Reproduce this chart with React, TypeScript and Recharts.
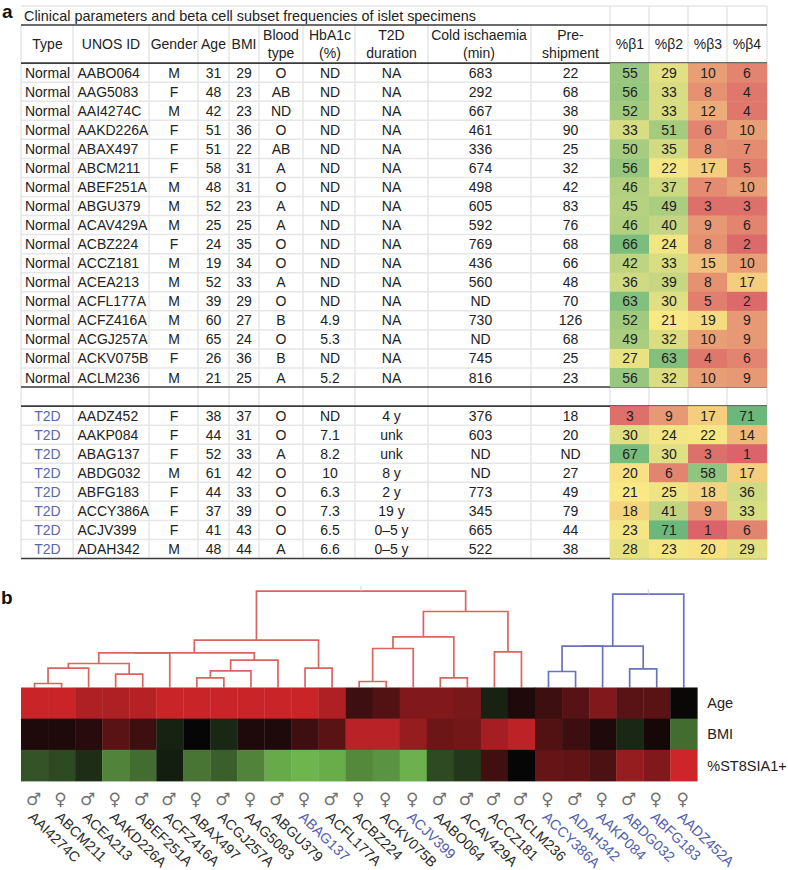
import React from "react";
import {
  LineChart,
  Line,
  ReferenceLine,
  Scatter,
  ScatterChart,
  XAxis,
  YAxis,
} from "recharts";

// panel a, table columns
const tableTypes = ["Normal","Normal","Normal","Normal","Normal","Normal","Normal","Normal","Normal","Normal","Normal","Normal","Normal","Normal","Normal","Normal","Normal","T2D","T2D","T2D","T2D","T2D","T2D","T2D","T2D"];
const tableIds = ["AABO064","AAG5083","AAI4274C","AAKD226A","ABAX497","ABCM211","ABEF251A","ABGU379","ACAV429A","ACBZ224","ACCZ181","ACEA213","ACFL177A","ACFZ416A","ACGJ257A","ACKV075B","ACLM236","AADZ452","AAKP084","ABAG137","ABDG032","ABFG183","ACCY386A","ACJV399","ADAH342"];
const tableGenders = ["M","F","M","F","F","F","M","M","M","F","M","M","M","M","M","F","M","F","F","F","M","F","F","F","M"];
const tableAges = [31,48,42,51,51,58,48,52,25,24,19,52,39,60,65,26,21,38,44,52,61,44,37,41,48];
const tableBmis = [29,23,23,36,22,31,31,23,25,35,34,33,29,27,24,36,25,37,31,33,42,33,39,43,44];
const tableBlood = ["O","AB","ND","O","AB","A","O","A","A","O","O","A","O","B","O","B","A","O","O","A","O","O","O","O","A"];
const tableHba1c = ["ND","ND","ND","ND","ND","ND","ND","ND","ND","ND","ND","ND","ND","4.9","5.3","ND","5.2","ND","7.1","8.2","10","6.3","7.3","6.5","6.6"];
const tableDuration = ["NA","NA","NA","NA","NA","NA","NA","NA","NA","NA","NA","NA","NA","NA","NA","NA","NA","4 y","unk","unk","8 y","2 y","19 y","0–5 y","0–5 y"];
const tableCold = ["683","292","667","461","336","674","498","605","592","769","436","560","ND","730","ND","745","816","376","603","ND","ND","773","345","665","522"];
const tablePreShip = ["22","68","38","90","25","32","42","83","76","68","66","48","70","126","68","25","23","18","20","ND","27","49","79","44","38"];
const beta1 = [55,56,52,33,50,56,46,45,46,66,42,36,63,52,49,27,56,3,30,67,20,21,18,23,28];
const beta2 = [29,33,33,51,35,22,37,49,40,24,33,39,30,21,32,63,32,9,24,30,6,25,41,71,23];
const beta3 = [10,8,12,6,8,17,7,3,9,8,15,8,5,19,10,4,10,17,22,3,58,18,9,1,20];
const beta4 = [6,4,4,10,7,5,10,3,6,2,10,17,2,9,9,6,9,71,14,1,17,36,33,6,29];
const betaColumns = [beta1, beta2, beta3, beta4];

const tableTitle = "Clinical parameters and beta cell subset frequencies of islet specimens";
const headerLabels = [["Type"],["UNOS ID"],["Gender"],["Age"],["BMI"],["Blood","type"],["HbA1c","(%)"],["T2D","duration"],["Cold ischaemia","(min)"],["Pre-","shipment"],["%β1"],["%β2"],["%β3"],["%β4"]];

// panel b, heat map columns in cluster order
const heatIds = ["AAI4274C","ABCM211","ACEA213","AAKD226A","ABEF251A","ACFZ416A","ABAX497","ACGJ257A","AAG5083","ABGU379","ABAG137","ACFL177A","ACBZ224","ACKV075B","ACJV399","AABO064","ACAV429A","ACCZ181","ACLM236","ACCY386A","ADAH342","AAKP084","ABDG032","ABFG183","AADZ452A"];
const heatGenders = ["♂","♀","♂","♀","♂","♂","♀","♂","♀","♂","♀","♂","♀","♀","♀","♂","♂","♂","♂","♀","♂","♀","♂","♀","♀"];
const heatIsT2D = [0,0,0,0,0,0,0,0,0,0,1,0,0,0,1,0,0,0,0,1,1,1,1,1,1];
const heatRowNames = ["Age","BMI","%ST8SIA1+"];
const heatAge = [0.98,0.98,0.85,0.84,0.88,0.98,0.98,0.98,0.98,0.98,0.98,0.85,0.28,0.38,0.62,0.62,0.58,-0.1,0.12,0.28,0.4,0.62,0.42,0.42,0.02];
const heatBmi = [0.12,0.12,0.17,0.42,0.28,-0.1,0,-0.12,0.12,0.12,0.28,0.42,0.9,0.9,0.72,0.52,0.55,0.8,0.92,0.38,0.27,0.12,-0.12,0.08,-0.5];
const heatSt8 = [-0.35,-0.3,-0.15,-0.65,-0.5,-0.08,-0.55,-0.42,-0.65,-0.9,-0.98,-0.92,-0.68,-0.75,-0.95,-0.3,-0.2,0.3,0,0.48,0.45,0.35,0.72,0.62,1];
const heatRows = [heatAge, heatBmi, heatSt8];

// dendrogram merges: [child, child, height]; ids above 24 are earlier merges (25 + position)
const dendroMerges = [
  [0,1,4],[25,2,19.3],[3,4,13.3],[26,27,24],[28,5,34.7],[6,7,9.7],[30,8,16.7],[31,9,27.3],
  [29,32,34.7],[10,11,19.3],[33,34,47.3],[12,13,6],[36,14,39],[15,16,9.7],[37,38,50.7],
  [17,18,35.7],[39,40,76],[35,41,96.3],[19,20,16],[43,21,41.3],[22,23,18.7],[44,45,41.3],[46,24,93.3],
];
const firstBlueMerge = 18;

// layout
const FONT = "Liberation Sans, Arial, sans-serif";
const columnEdges = [21,73,149,198,229,259,303,355,428,531,610,649,688,727,767];
const columnTextX = [47.5,77.5,174,213.5,244,281,330,391.5,480.5,570.5,630,669,708,747];
const ROW_H = 19.05;
const TABLE_ROWS = 29;
const firstRowOf = (i: number) => (i < 17 ? 3 + i : 4 + i);
const thickRows = [1, 3, 20, 21, 29];
const lightRows = [0,4,5,6,7,8,9,10,11,12,13,14,15,16,17,18,19,22,23,24,25,26,27,28];

const HEAT_COL = 27.05;
const HEAT_ROW = 31.2;

const hex = (c: number[]) => `rgb(${c.map((v) => Math.round(v)).join(",")})`;
const mix = (a: number[], b: number[], t: number) => a.map((v, i) => v + (b[i] - v) * t);

const allBeta = betaColumns.flat().sort((a, b) => a - b);
const betaMin = allBeta[0];
const betaMax = allBeta[allBeta.length - 1];
const betaMid = allBeta[Math.floor(allBeta.length / 2)];
const betaColor = (v: number) =>
  v < betaMid
    ? hex(mix([219, 99, 105], [250, 232, 132], (v - betaMin) / (betaMid - betaMin)))
    : hex(mix([250, 232, 132], [108, 184, 124], (v - betaMid) / (betaMax - betaMid)));

const heatColor = (v: number) =>
  v >= 0
    ? hex(mix([6, 6, 6], [205, 37, 41], v))
    : hex(mix([6, 6, 6], [112, 184, 80], Math.pow(-v, 0.8)));

type TextCell = { x: number; y: number; lines: string[]; color?: string; anchor?: string; size?: number };

const textCells: TextCell[] = [];
textCells.push({ x: 24, y: 0.5, lines: [tableTitle], anchor: "start", size: 14.4 });
headerLabels.forEach((lines, c) => {
  textCells.push({ x: c === 1 ? 111 : c === 8 ? 479 : columnTextX[c], y: 2, lines });
});
tableIds.forEach((id, i) => {
  const y = firstRowOf(i) + 0.5;
  const isT2D = tableTypes[i] === "T2D";
  const values = [
    tableTypes[i], id, tableGenders[i], tableAges[i], tableBmis[i], tableBlood[i],
    tableHba1c[i], tableDuration[i], tableCold[i], tablePreShip[i],
    beta1[i], beta2[i], beta3[i], beta4[i],
  ];
  values.forEach((v, c) => {
    textCells.push({
      x: columnTextX[c],
      y,
      lines: [String(v)],
      anchor: c === 1 ? "start" : "middle",
      color: c === 0 && isT2D ? "#5868ae" : "#222",
    });
  });
});

const betaCells = betaColumns.flatMap((col, c) =>
  col.map((v, i) => ({
    x: (columnEdges[10 + c] + columnEdges[11 + c]) / 2,
    y: firstRowOf(i) + 0.5,
    width: columnEdges[11 + c] - columnEdges[10 + c],
    fill: betaColor(v),
  })),
);

const heatCells = heatRows.flatMap((row, r) =>
  row.map((v, i) => ({ x: i + 0.5, y: r + 0.5, fill: heatColor(v) })),
);

// walk the merges to get every bracket as a small polyline
const nodeX: number[] = heatIds.map((_, i) => i + 0.5);
const nodeH: number[] = heatIds.map(() => 0);
const dendroLinks = dendroMerges.map(([a, b, h], k) => {
  const link = [
    { x: nodeX[a], h: nodeH[a] },
    { x: nodeX[a], h },
    { x: nodeX[b], h },
    { x: nodeX[b], h: nodeH[b] },
  ];
  nodeX.push((nodeX[a] + nodeX[b]) / 2);
  nodeH.push(h);
  return { link, color: k < firstBlueMerge ? "#d9655f" : "#6b72bd" };
});
const rootTicks = [firstBlueMerge - 1, dendroMerges.length - 1].map((k) => [
  { x: nodeX[25 + k], h: nodeH[25 + k] },
  { x: nodeX[25 + k], h: nodeH[25 + k] + 5 },
]);

const TableText = (props: any) => {
  const { cx, cy, payload } = props;
  const { lines, color, anchor, size } = payload;
  const gap = 18;
  return (
    <text
      x={cx}
      y={cy}
      fill={color ?? "#222"}
      textAnchor={anchor ?? "middle"}
      fontFamily={FONT}
      fontSize={size ?? 14}
    >
      {lines.map((line: string, i: number) => (
        <tspan key={i} x={cx} y={cy + 5 + (i - (lines.length - 1) / 2) * gap}>
          {line}
        </tspan>
      ))}
    </text>
  );
};

const BetaRect = (props: any) => {
  const { cx, cy, payload } = props;
  return (
    <rect
      x={cx - payload.width / 2}
      y={cy - ROW_H / 2}
      width={payload.width}
      height={ROW_H + 0.4}
      fill={payload.fill}
    />
  );
};

const HeatRect = (props: any) => {
  const { cx, cy, payload } = props;
  return (
    <rect
      x={cx - HEAT_COL / 2}
      y={cy - HEAT_ROW / 2}
      width={HEAT_COL + 0.3}
      height={HEAT_ROW + 0.3}
      fill={payload.fill}
    />
  );
};

const SampleTick = (props: any) => {
  const { x, y, payload } = props;
  const i = payload.value - 0.5;
  const color = heatIsT2D[i] ? "#4f5cab" : "#2a2a2a";
  const lx = x - 7;
  const ly = y + 29;
  return (
    <g fontFamily={FONT}>
      <text x={x - 1} y={y + 16} fontSize={17} fill="#707070" textAnchor="middle" fontFamily="DejaVu Sans">
        {heatGenders[i]}
      </text>
      <text x={lx} y={ly} fontSize={14.3} fill={color} transform={`rotate(44 ${lx} ${ly})`}>
        {heatIds[i]}
      </text>
    </g>
  );
};

export default function App() {
  return (
    <div style={{ position: "absolute", left: 0, top: 0, width: 788, height: 870, background: "#fff", fontFamily: FONT }}>
      <div style={{ position: "absolute", left: 2, top: 1, fontSize: 19, fontWeight: 700, color: "#111" }}>a</div>
      <div style={{ position: "absolute", left: 1, top: 587, fontSize: 19, fontWeight: 700, color: "#111" }}>b</div>

      <div style={{ position: "absolute", left: 0, top: 0 }}>
        <ScatterChart width={788} height={564} margin={{ top: 6, right: 0, bottom: 5.5, left: 0 }}>
          <XAxis type="number" dataKey="x" domain={[0, 788]} hide />
          <YAxis type="number" dataKey="y" domain={[0, TABLE_ROWS]} reversed hide width={0} />
          {columnEdges.map((e) => (
            <ReferenceLine
              key={e}
              segment={[{ x: e, y: e >= 610 ? 0 : 1 }, { x: e, y: TABLE_ROWS }]}
              stroke="#e6e6e6"
              strokeWidth={1.5}
            />
          ))}
          {lightRows.map((r) => (
            <ReferenceLine key={r} segment={[{ x: 21, y: r }, { x: 767, y: r }]} stroke="#e6e6e6" strokeWidth={1.5} />
          ))}
          <Scatter data={betaCells} shape={BetaRect} isAnimationActive={false} />
          <Scatter data={textCells} shape={TableText} isAnimationActive={false} />
          {thickRows.map((r) => (
            <ReferenceLine key={r} isFront segment={[{ x: 21, y: r }, { x: 767, y: r }]} stroke="#3a3a3a" strokeWidth={1.6} />
          ))}
        </ScatterChart>
      </div>

      <div style={{ position: "absolute", left: 0, top: 580 }}>
        <LineChart width={788} height={108} margin={{ top: 0, right: 90.7, bottom: 0.5, left: 21 }}>
          <XAxis type="number" dataKey="x" domain={[0, 25]} hide />
          <YAxis type="number" domain={[0, 107.5]} hide width={0} />
          {dendroLinks.map((d, k) => (
            <Line
              key={k}
              data={d.link}
              dataKey="h"
              stroke={d.color}
              strokeWidth={1.7}
              dot={false}
              isAnimationActive={false}
            />
          ))}
          {rootTicks.map((d, k) => (
            <Line key={k} data={d} dataKey="h" stroke="#cfcfcf" strokeWidth={1} dot={false} isAnimationActive={false} />
          ))}
        </LineChart>
      </div>

      <div style={{ position: "absolute", left: 0, top: 687 }}>
        <ScatterChart width={788} height={183} margin={{ top: 0.5, right: 0, bottom: 0, left: 21 }}>
          <XAxis
            type="number"
            dataKey="x"
            domain={[0, 25]}
            ticks={heatIds.map((_, i) => i + 0.5)}
            interval={0}
            axisLine={false}
            tickLine={false}
            height={89}
            tick={<SampleTick />}
          />
          <YAxis
            type="number"
            dataKey="y"
            orientation="right"
            domain={[0, 3]}
            reversed
            ticks={[0.5, 1.5, 2.5]}
            interval={0}
            axisLine={false}
            tickLine={false}
            width={90.7}
            tickMargin={4}
            tickFormatter={(v: number) => heatRowNames[v - 0.5]}
            tick={{ fontSize: 14.5, fill: "#222", fontFamily: FONT }}
          />
          <Scatter data={heatCells} shape={HeatRect} isAnimationActive={false} />
          <ReferenceLine x={19} stroke="#b5b5b5" strokeWidth={1.5} isFront />
          <ReferenceLine y={3} stroke="#c9d6c2" strokeWidth={1} isFront />
        </ScatterChart>
      </div>
    </div>
  );
}
